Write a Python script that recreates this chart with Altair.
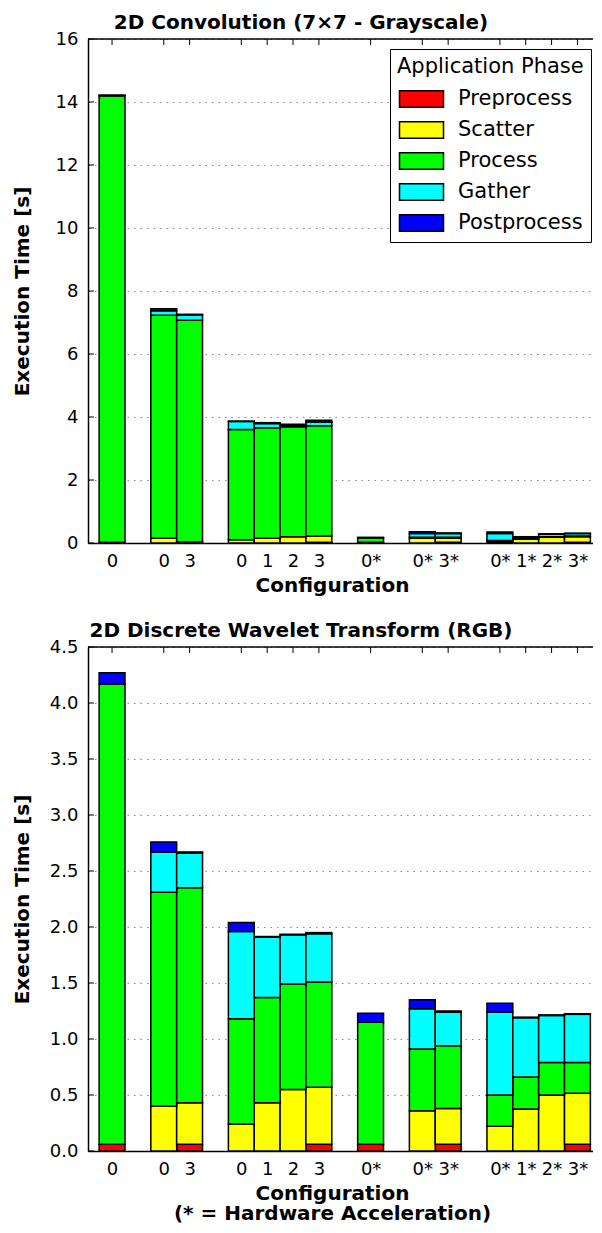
import json
import altair as alt
import pandas as pd

# ---------------- data ----------------
phases = ["Preprocess", "Scatter", "Process", "Gather", "Postprocess"]
phase_colors = ["#ff0000", "#ffff00", "#00ff00", "#00ffff", "#0000ff"]

positions = [0, 2, 3, 5, 6, 7, 8, 10, 12, 13, 15, 16, 17, 18]
config_labels = ["0", "0", "3", "0", "1", "2", "3", "0*", "0*", "3*", "0*", "1*", "2*", "3*"]

# 2D Convolution (7x7 - Grayscale)
conv_pre = [0.02, 0.0, 0.02, 0.0, 0.0, 0.0, 0.02, 0.02, 0.0, 0.02, 0.0, 0.0, 0.0, 0.02]
conv_scatter = [0.0, 0.15, 0.02, 0.10, 0.15, 0.20, 0.20, 0.0, 0.15, 0.13, 0.05, 0.12, 0.18, 0.18]
conv_process = [14.18, 7.08, 7.03, 3.50, 3.51, 3.49, 3.50, 0.15, 0.03, 0.03, 0.03, 0.03, 0.02, 0.02]
conv_gather = [0.0, 0.14, 0.17, 0.26, 0.13, 0.04, 0.12, 0.0, 0.12, 0.12, 0.22, 0.03, 0.08, 0.08]
conv_post = [0.02, 0.07, 0.02, 0.01, 0.03, 0.04, 0.06, 0.01, 0.06, 0.02, 0.05, 0.02, 0.01, 0.01]

# 2D Discrete Wavelet Transform (RGB)
dwt_pre = [0.06, 0.0, 0.06, 0.0, 0.0, 0.0, 0.06, 0.06, 0.0, 0.06, 0.0, 0.0, 0.0, 0.06]
dwt_scatter = [0.0, 0.40, 0.37, 0.24, 0.43, 0.55, 0.51, 0.0, 0.36, 0.32, 0.22, 0.375, 0.50, 0.455]
dwt_process = [4.11, 1.91, 1.92, 0.94, 0.94, 0.94, 0.94, 1.09, 0.55, 0.56, 0.28, 0.285, 0.29, 0.275]
dwt_gather = [0.0, 0.36, 0.31, 0.78, 0.54, 0.44, 0.43, 0.0, 0.36, 0.30, 0.74, 0.53, 0.42, 0.43]
dwt_post = [0.10, 0.09, 0.01, 0.08, 0.005, 0.005, 0.01, 0.08, 0.08, 0.01, 0.08, 0.005, 0.005, 0.005]

conv_ticks = [0, 2, 4, 6, 8, 10, 12, 14, 16]
dwt_ticks = [0.0, 0.5, 1.0, 1.5, 2.0, 2.5, 3.0, 3.5, 4.0, 4.5]

# ---------------- layout constants ----------------
W, H = 514, 504
X_DOMAIN = [-0.93, 18.95]
FONT = "DejaVu Sans"


def long_table(series):
    rows = []
    for order, (ph, vals) in enumerate(zip(phases, series)):
        for p, lab, v in zip(positions, config_labels, vals):
            rows.append({"pos": p, "config": lab, "phase": ph, "order": order, "value": v})
    return pd.DataFrame(rows)


label_arr = [""] * (max(positions) + 1)
for p, lab in zip(positions, config_labels):
    label_arr[p] = lab
label_expr = json.dumps(label_arr) + "[datum.value]"


def panel(series, title, yticks, ymax, yfmt, xtitle, legend):
    df = long_table(series)
    xscale = alt.Scale(domain=X_DOMAIN, nice=False, zero=False)
    yscale = alt.Scale(domain=[0, ymax], nice=False)

    bars = alt.Chart(df).transform_stack(
        stack="value", as_=["y0", "y1"], groupby=["pos"],
        sort=[alt.SortField("order", order="ascending")],
    ).transform_calculate(
        x0="datum.pos - 0.5", x1="datum.pos + 0.5"
    ).mark_bar(stroke="black", strokeWidth=1.5, opacity=1).encode(
        x=alt.X("x0:Q", scale=xscale, title=xtitle,
                axis=alt.Axis(values=positions, labelExpr=label_expr, ticks=False,
                              grid=False, labelPadding=9.5, titlePadding=5,
                              titleX=244, labelFlush=False, labelOverlap=False)),
        x2="x1:Q",
        y=alt.Y("y0:Q", scale=yscale, title="Execution Time [s]",
                axis=alt.Axis(values=yticks, format=yfmt, ticks=False, grid=True,
                              labelPadding=10, titleX=-66, titleBaseline="middle",
                              titleAngle=-90, titleAlign="center")),
        y2="y1:Q",
        color=alt.Color("phase:N", scale=alt.Scale(domain=phases, range=phase_colors),
                        sort=phases, legend=legend),
        order=alt.Order("order:Q"),
    )

    top_spine = alt.Chart(pd.DataFrame({"a": [0]})).mark_rule(
        color="black", strokeWidth=1.5
    ).encode(x=alt.value(0), x2=alt.value(W), y=alt.value(0))

    top_ticks = alt.Chart(pd.DataFrame({"pos": positions})).mark_rule(
        color="black", strokeWidth=1
    ).encode(x=alt.X("pos:Q", scale=xscale, axis=None), y=alt.value(0), y2=alt.value(6))

    left_ticks = alt.Chart(pd.DataFrame({"v": yticks})).mark_rule(
        color="black", strokeWidth=1
    ).encode(y=alt.Y("v:Q", scale=yscale, axis=None), x=alt.value(0), x2=alt.value(6))

    return alt.layer(bars, left_ticks, top_ticks, top_spine).resolve_axis(
        x="independent", y="independent"
    ).properties(
        width=W, height=H,
        title=alt.TitleParams(title, fontSize=20, font=FONT, fontWeight="bold",
                              color="black", offset=-3, anchor="middle", dx=-44,
                              frame="group"),
    )


legend = alt.Legend(
    title="Application Phase", orient="none", legendX=302, legendY=10,
    direction="vertical", titleFont=FONT, titleFontWeight="normal", titleFontSize=21,
    titleColor="black", titleLimit=400, labelLimit=400,
    labelFont=FONT, labelFontSize=21, labelColor="black",
    symbolType="M-2.2,-0.835L2.2,-0.835L2.2,0.835L-2.2,0.835Z", symbolSize=400,
    symbolOffset=13.5,
    symbolStrokeColor="black", symbolStrokeWidth=1.5, symbolOpacity=1,
    strokeColor="black", fillColor="white", padding=7, rowPadding=7,
    labelOffset=25.5, titlePadding=11, cornerRadius=0,
)

top = panel([conv_pre, conv_scatter, conv_process, conv_gather, conv_post],
            "2D Convolution (7\u00d77 - Grayscale)", conv_ticks, 16, "d",
            "Configuration", legend)
bottom = panel([dwt_pre, dwt_scatter, dwt_process, dwt_gather, dwt_post],
               "2D Discrete Wavelet Transform (RGB)", dwt_ticks, 4.5, ".1f",
               ["Configuration", "(* = Hardware Acceleration)"], None)

chart = alt.vconcat(top, bottom, spacing=25).resolve_scale(
    x="independent", y="independent", color="shared"
).resolve_legend(color="independent").configure(
    font=FONT, padding={"left": 4, "top": 5, "right": -10, "bottom": 0}
).configure_view(stroke=None).configure_axis(
    labelFont=FONT, labelFontSize=18, labelColor="black",
    titleFont=FONT, titleFontSize=20, titleFontWeight="bold", titleColor="black",
    domainColor="black", domainWidth=1.5,
    gridColor="#888888", gridDash=[1.5, 5], gridWidth=1,
).configure_axisX(titleLineHeight=20)

chart.save("out.html", embed_options={"renderer": "svg", "actions": False})
